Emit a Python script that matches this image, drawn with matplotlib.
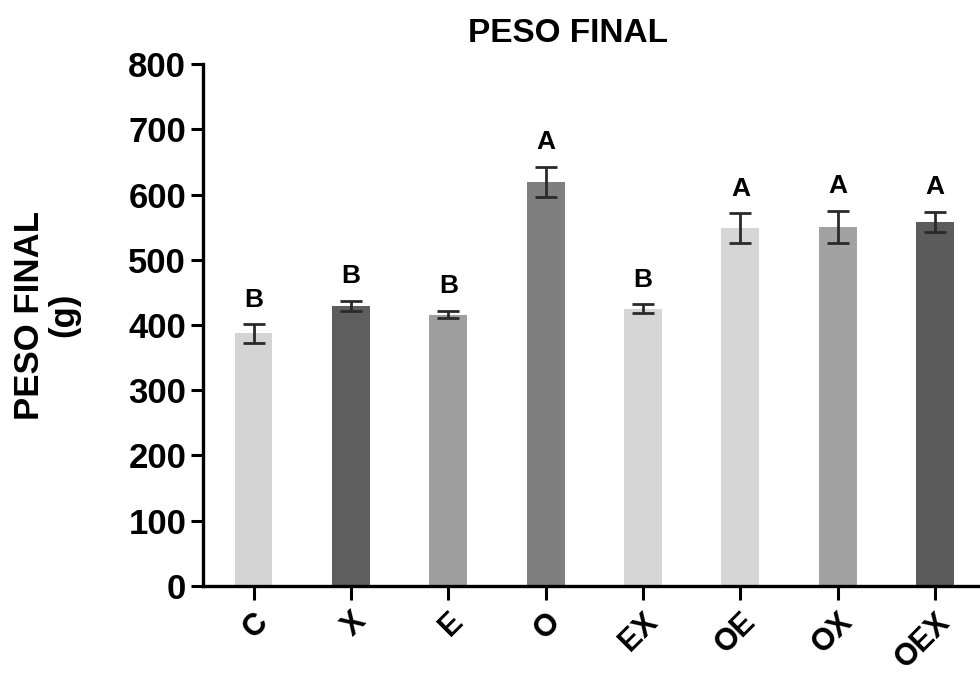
import matplotlib.pyplot as plt

# grupos y valores de peso final
grupos = ["C", "X", "E", "O", "EX", "OE", "OX", "OEX"]
medias = [387, 429, 416, 620, 425, 548, 550, 558]
errores = [14, 8, 6, 23, 7, 23, 25, 16]
letras = ["B", "B", "B", "A", "B", "A", "A", "A"]
colores = ["#d4d4d4", "#5e5e5e", "#9e9e9e", "#7f7f7f",
           "#d6d6d6", "#d6d6d6", "#a2a2a2", "#5c5c5c"]

plt.rcParams['font.family'] = ['Liberation Sans', 'DejaVu Sans']
plt.rcParams['font.weight'] = 'bold'

fig = plt.figure(figsize=(9.8, 6.75), dpi=100)
ax = fig.add_axes([0.207, 0.132, 0.793, 0.773])

x = list(range(len(grupos)))
ax.bar(x, medias, width=0.39, color=colores, zorder=2)
ax.errorbar(x, medias, yerr=errores, fmt='none', ecolor='#2a2a2a',
            elinewidth=2, capsize=8, capthick=2, zorder=3)

# letras de significancia encima de cada barra
for xi, m, e, l in zip(x, medias, errores, letras):
    ax.text(xi, m + e + 19, l, ha='center', va='bottom',
            fontsize=19, fontweight='bold')

ax.set_ylim(0, 800)
ax.set_xlim(-0.52, 7.46)
ax.set_yticks(range(0, 801, 100))
ax.set_xticks(x)
ax.set_xticklabels(grupos, rotation=45, ha='right', va='top',
                   rotation_mode='anchor', fontsize=22, fontweight='bold')
ax.tick_params(axis='y', labelsize=25, width=2.2, length=9, pad=3)
ax.tick_params(axis='x', width=2.2, length=10, pad=5)

for lado in ['top', 'right']:
    ax.spines[lado].set_visible(False)
for lado in ['left', 'bottom']:
    ax.spines[lado].set_linewidth(2.4)

fig.text(0.048, 0.533, "PESO FINAL\n(g)", rotation=90, ha='center',
         va='center', fontsize=25, fontweight='bold', linespacing=1.05,
         multialignment='center')
fig.text(0.58, 0.951, "PESO FINAL", ha='center', va='center',
         fontsize=24, fontweight='bold')

fig.savefig("out.png", dpi=100)
